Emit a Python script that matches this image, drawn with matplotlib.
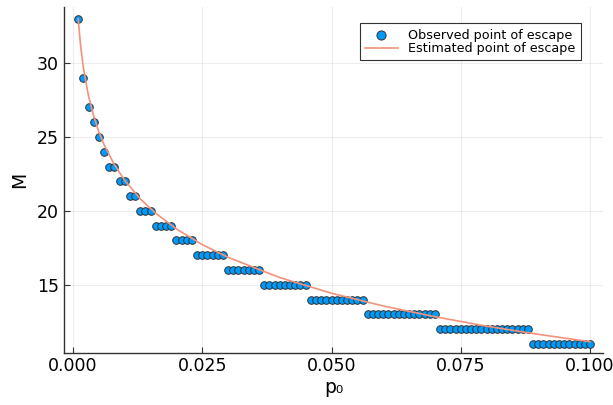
import matplotlib.pyplot as plt
import numpy as np

# observed point of escape: p0 = 0.001 ... 0.100
p0 = np.round(np.arange(1, 101) * 0.001, 3)
m_counts = [(33, 1), (29, 1), (27, 1), (26, 1), (25, 1), (24, 1), (23, 2), (22, 2),
            (21, 2), (20, 3), (19, 4), (18, 4), (17, 6), (16, 7), (15, 9), (14, 11),
            (13, 14), (12, 18), (11, 12)]
m_obs = [m for m, n in m_counts for _ in range(n)]

# estimated curve
p_est = [0.001, 0.0015, 0.002, 0.003, 0.004, 0.005, 0.006, 0.008, 0.010, 0.013, 0.016,
         0.02, 0.025, 0.03, 0.04, 0.05, 0.06, 0.07, 0.08, 0.09, 0.1]
m_est = [33.00, 31.08, 29.71, 27.78, 26.42, 25.36, 24.49, 23.13, 22.07, 20.82, 19.84,
         18.78, 17.72, 16.86, 15.49, 14.43, 13.57, 12.84, 12.20, 11.65, 11.15]

fig = plt.figure(figsize=(6.13, 4.05), dpi=100)
ax = fig.add_axes([64 / 613, 1 - 352.5 / 405, (603 - 64) / 613, (352.5 - 7) / 405])

ax.scatter(p0, m_obs, s=30, color='#009AFA', edgecolor='#333333', linewidth=0.7,
           zorder=3, label='Observed point of escape')
ax.plot(p_est, m_est, color='#F2927A', linewidth=1.2, zorder=4,
        label='Estimated point of escape')

ax.set_xlim(-0.00174, 0.10251)
ax.set_ylim(10.42, 33.8)
ax.set_xticks([0.0, 0.025, 0.05, 0.075, 0.1])
ax.set_xticklabels(['0.000', '0.025', '0.050', '0.075', '0.100'])
ax.set_yticks([15, 20, 25, 30])
ax.tick_params(labelsize=12.5, length=4, width=0.8, direction='in', color='#333333')
ax.grid(True, color='#000000', alpha=0.07, linewidth=0.8)
for s in ['top', 'right']:
    ax.spines[s].set_visible(False)
for s in ['left', 'bottom']:
    ax.spines[s].set_color('#333333')
    ax.spines[s].set_linewidth(1.0)

ax.set_xlabel('p₀', fontsize=13.5, labelpad=2)
ax.set_ylabel('M', fontsize=13.5, labelpad=6)

leg = ax.legend(loc='upper right', bbox_to_anchor=(587 / 613, 1 - 17 / 405),
                bbox_transform=fig.transFigure, fontsize=9.2, fancybox=False,
                edgecolor='#333333', framealpha=1, borderpad=0.4, markerscale=1.2,
                handlelength=2.6, labelspacing=0.05)
leg.get_frame().set_linewidth(0.8)

fig.savefig('out.png')
